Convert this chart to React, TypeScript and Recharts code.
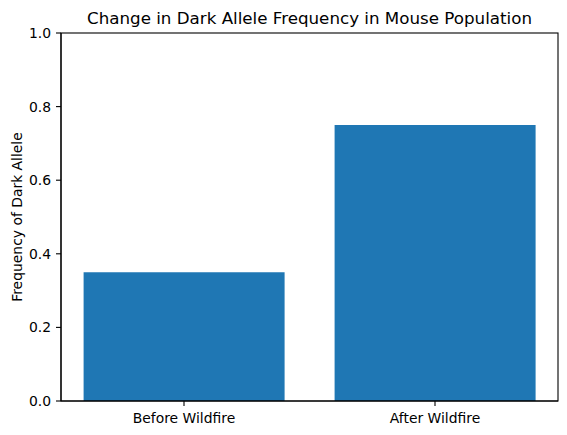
import React from 'react';
import { BarChart, Bar, XAxis, YAxis, Label } from 'recharts';

const categories = ['Before Wildfire', 'After Wildfire'];
const frequencies = [0.35, 0.75];
const yTicks = [0, 0.2, 0.4, 0.6, 0.8, 1.0];

const data = categories.map((c, i) => ({ name: c, value: frequencies[i] }));

const FONT = 'DejaVu Sans, sans-serif';
const tickStyle = { fontFamily: FONT, fontSize: 13.9, fill: '#000' };

export default function App() {
  return (
    <div style={{ position: 'absolute', left: 0, top: 0, width: 567, height: 435, background: '#fff' }}>
      <BarChart
        width={567}
        height={435}
        data={data}
        margin={{ top: 33, right: 9, left: 0, bottom: 0 }}
        barCategoryGap="10%"
        style={{ position: 'absolute', left: 0, top: 0 }}
      >
        <XAxis
          dataKey="name"
          height={34}
          padding={{ left: -2.5, right: -2.5 }}
          tick={tickStyle}
          tickSize={5}
          tickMargin={7}
          stroke="#000"
          axisLine={{ stroke: '#000', strokeWidth: 1.1 }}
          tickLine={{ stroke: '#000', strokeWidth: 1.1 }}
        />
        <YAxis
          domain={[0, 1]}
          ticks={yTicks}
          width={61}
          tick={tickStyle}
          tickSize={5}
          tickMargin={5}
          tickFormatter={(v: number) => v.toFixed(1)}
          axisLine={{ stroke: '#000', strokeWidth: 1.1 }}
          tickLine={{ stroke: '#000', strokeWidth: 1.1 }}
          interval={0}
        >
          <Label
            value="Frequency of Dark Allele"
            angle={-90}
            position="insideLeft"
            offset={17}
            style={{ fontFamily: FONT, fontSize: 13.9, fill: '#000', textAnchor: 'middle' }}
          />
        </YAxis>
        <Bar dataKey="value" fill="#1f77b4" isAnimationActive={false} />
      </BarChart>
      <svg width={567} height={435} style={{ position: 'absolute', left: 0, top: 0, pointerEvents: 'none' }}>
        <text x={309.5} y={24} textAnchor="middle" fontFamily={FONT} fontSize={16.7} fill="#000">
          Change in Dark Allele Frequency in Mouse Population
        </text>
        <rect x={61} y={33} width={497} height={368} fill="none" stroke="#000" strokeWidth={1.1} />
      </svg>
    </div>
  );
}
